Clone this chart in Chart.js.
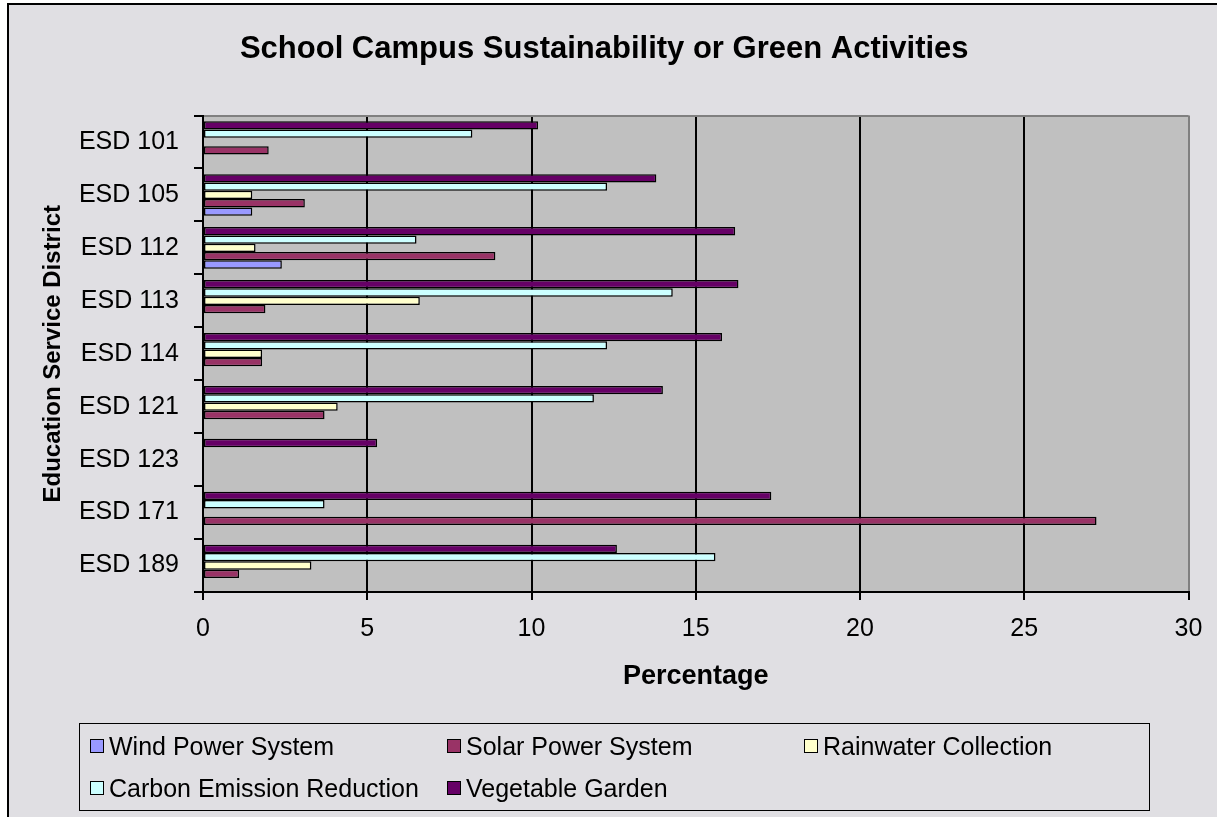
<!DOCTYPE html>
<html>
<head>
<meta charset="utf-8">
<script src="https://cdn.jsdelivr.net/npm/chart.js@4/dist/chart.umd.min.js"></script>
<style>
html,body{margin:0;padding:0;background:#fff}
#wrap{position:relative;width:1217px;height:817px;overflow:hidden}
#c{position:absolute;left:0;top:0}
#legend{position:absolute;left:79px;top:723px;width:1071px;height:88px;box-sizing:border-box;border:1.5px solid #000;font:25px "Liberation Sans",Arial,sans-serif;color:#000}
.li{position:absolute;display:flex;align-items:center;white-space:nowrap;height:30px;line-height:30px}
.li i{display:inline-block;width:12px;height:12px;border:1.5px solid #000;margin-right:5px}
</style>
</head>
<body>
<div id="wrap">
<canvas id="c" width="1217" height="817"></canvas>
<div id="legend"></div>
</div>
<script>
// categories top to bottom
const CATEGORIES=['ESD 101','ESD 105','ESD 112','ESD 113','ESD 114','ESD 121','ESD 123','ESD 171','ESD 189'];
// values in percent
const WIND  =[0,  1.5, 2.4, 0,   0,   0,   0,   0,   0];
const SOLAR =[2.0,3.1, 8.9, 1.9, 1.8, 3.7, 0,   27.2,1.1];
const RAIN  =[0,  1.5, 1.6, 6.6, 1.8, 4.1, 0,   0,   3.3];
const CARBON=[8.2,12.3,6.5, 14.3,12.3,11.9,0,   3.7, 15.6];
const VEG   =[10.2,13.8,16.2,16.3,15.8,14.0,5.3,17.3,12.6];
const SERIES_NAMES=['Wind Power System','Solar Power System','Rainwater Collection','Carbon Emission Reduction','Vegetable Garden'];
const SERIES_DATA=[WIND,SOLAR,RAIN,CARBON,VEG];
const COLORS=['#9999FF','#993366','#FFFFCC','#CCFFFF','#660066'];
const X_MIN=0, X_MAX=30, X_STEP=5;

const FONT='"Liberation Sans", Arial, sans-serif';

// legend (excel style box, 3 columns)
const leg=document.getElementById('legend');
SERIES_NAMES.forEach((n,i)=>{
  const d=document.createElement('div');
  d.className='li';
  d.style.left=(10+(i%3)*357)+'px';
  d.style.top=((i<3?23:65)-16)+'px';
  d.innerHTML=`<i style="background:${COLORS[i]}"></i>${n}`;
  leg.appendChild(d);
});

// background, outer frame and grey plot area
const bgPlugin={id:'bg',beforeDraw(chart){
  const {ctx,chartArea:a,width,height}=chart;
  ctx.save();
  ctx.fillStyle='#fff';ctx.fillRect(0,0,width,height);
  ctx.fillStyle='#E0DFE3';ctx.fillRect(8,4,width,height);
  ctx.strokeStyle='#000';ctx.lineWidth=2;
  ctx.beginPath();ctx.moveTo(8,height);ctx.lineTo(8,4);ctx.lineTo(width,4);ctx.stroke();
  ctx.fillStyle='#C0C0C0';ctx.fillRect(a.left,a.top,a.right-a.left,a.bottom-a.top);
  ctx.restore();
}};

// bars within a group go top->bottom, so feed the series in reverse
const datasets=SERIES_DATA.map((d,i)=>({
  label:SERIES_NAMES[i],data:d,backgroundColor:COLORS[i],
  borderColor:'#000',borderWidth:1.5,borderSkipped:false,
  barPercentage:1,categoryPercentage:0.785
})).reverse();

new Chart(document.getElementById('c'),{
  type:'bar',
  data:{labels:CATEGORIES,datasets},
  plugins:[bgPlugin],
  options:{
    indexAxis:'y',responsive:false,animation:false,
    layout:{padding:{left:20,right:28.5,top:0,bottom:115}},
    plugins:{
      legend:{display:false},tooltip:{enabled:false},
      title:{display:true,text:'School Campus Sustainability or Green Activities',color:'#000',
        font:{family:FONT,size:31,weight:'bold'},padding:{top:30.4,bottom:47.9}}
    },
    scales:{
      x:{type:'linear',min:X_MIN,max:X_MAX,
        ticks:{stepSize:X_STEP,color:'#000',font:{family:FONT,size:25},padding:14},
        grid:{color:c=>c.tick&&c.tick.value===X_MAX?'#808080':(c.tick&&c.tick.value===X_MIN?'transparent':'#000'),
          lineWidth:2,tickColor:'#000',tickWidth:2,tickLength:8},
        border:{color:'#000',width:2},
        title:{display:true,text:'Percentage',color:'#000',font:{family:FONT,size:27,weight:'bold'},padding:{top:0,bottom:9}},
        afterFit:s=>{s.height=110}
      },
      y:{type:'category',offset:true,
        ticks:{color:'#000',font:{family:FONT,size:25},padding:15},
        grid:{offset:true,color:c=>c.index===0?'#808080':'transparent',lineWidth:2,tickColor:'#000',tickWidth:2,tickLength:9},
        border:{color:'#000',width:2},
        title:{display:true,text:'Education Service District',color:'#000',font:{family:FONT,size:24,weight:'bold'},padding:{top:19,bottom:0}},
        afterFit:s=>{s.width=183}
      }
    }
  }
});
</script>
</body>
</html>
